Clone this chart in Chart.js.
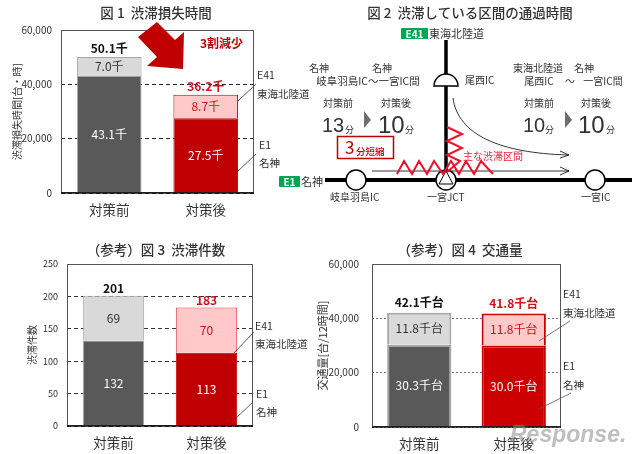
<!DOCTYPE html>
<html lang="ja">
<head>
<meta charset="utf-8">
<title>渋滞対策の効果</title>
<script src="https://cdn.jsdelivr.net/npm/chart.js@4"></script>
<style>
  html, body { margin: 0; padding: 0; background: #fff; }
  #page { position: relative; width: 640px; height: 454px; overflow: hidden; font-family: "Noto Sans CJK JP", sans-serif; }
  canvas { position: absolute; }
  svg { position: absolute; left: 0; top: 0; }
  svg text { font-family: "Noto Sans CJK JP", sans-serif; fill: #333; }
</style>
</head>
<body>
<div id="page">
  <canvas id="fig1"></canvas>
  <canvas id="fig3"></canvas>
  <canvas id="fig4"></canvas>
  <svg width="640" height="454" viewBox="0 0 640 454">
    <!-- titles -->
    <text x="156" y="18" font-size="13.5" text-anchor="middle" font-weight="500">図 1&#160;&#160;渋滞損失時間</text>
    <text x="470" y="18" font-size="13.5" text-anchor="middle" font-weight="500">図 2&#160;&#160;渋滞している区間の通過時間</text>
    <text x="156" y="255" font-size="13.5" text-anchor="middle" font-weight="500">（参考）図 3&#160;&#160;渋滞件数</text>
    <text x="460" y="255" font-size="13.5" text-anchor="middle" font-weight="500">（参考）図 4&#160;&#160;交通量</text>

    <!-- fig 1 arrow and notes -->
    <polygon points="138,37 157,22 175,40 184,32 183,69 147,66 157,57" fill="#c00000"/>
    <text x="200" y="48" font-size="12" font-weight="700" style="fill:#c00000">3割減少</text>
    <g font-size="10.5">
      <text x="257" y="79">E41</text><text x="257" y="98">東海北陸道</text>
      <text x="259" y="149">E1</text><text x="259" y="167">名神</text>
    </g>
    <g stroke="#333" stroke-width="0.8">
      <line x1="238" y1="101" x2="256" y2="84"/><line x1="237" y1="172" x2="256" y2="154"/>
    </g>

    <!-- fig 3 notes -->
    <g font-size="10.5">
      <text x="255" y="330">E41</text><text x="255" y="348">東海北陸道</text>
      <text x="256" y="398">E1</text><text x="256" y="416">名神</text>
    </g>
    <g stroke="#333" stroke-width="0.8">
      <line x1="234" y1="353" x2="254" y2="332"/><line x1="234" y1="420" x2="253" y2="402"/>
    </g>

    <!-- fig 4 notes -->
    <g font-size="10.5">
      <text x="563" y="298">E41</text><text x="563" y="317">東海北陸道</text>
      <text x="563" y="370">E1</text><text x="563" y="389">名神</text>
    </g>
    <g stroke="#555" stroke-width="0.8">
      <line x1="539" y1="341" x2="570" y2="321"/><line x1="539" y1="409" x2="571" y2="393"/>
    </g>

    <!-- fig 2 road diagram -->
    <rect x="401" y="28" width="27" height="11" rx="1" fill="#00a651"/>
    <text x="414.5" y="37.5" font-size="10" font-weight="700" text-anchor="middle" style="fill:#fff">E41</text>
    <text x="429" y="38" font-size="11">東海北陸道</text>
    <rect x="279" y="176" width="21" height="11" rx="1" fill="#00a651"/>
    <text x="289.5" y="185.5" font-size="10" font-weight="700" text-anchor="middle" style="fill:#fff">E1</text>
    <text x="301" y="186" font-size="11">名神</text>

    <line x1="446" y1="40" x2="446" y2="180" stroke="#000" stroke-width="3.5"/>
    <line x1="325" y1="180" x2="632" y2="180" stroke="#000" stroke-width="4"/>
    <circle cx="356" cy="180" r="10" fill="#fff" stroke="#000" stroke-width="1.5"/>
    <circle cx="595" cy="180" r="10" fill="#fff" stroke="#000" stroke-width="1.5"/>
    <circle cx="446" cy="180" r="10" fill="#fff" stroke="#000" stroke-width="1.5"/>
    <polygon points="446,171 453,184 439,184" fill="#fff" stroke="#000" stroke-width="1"/>
    <path d="M434,86 A12,12 0 0 1 458,86 Z" fill="#fff" stroke="#000" stroke-width="1.5"/>

    <path d="M453,98 C458,135 500,153 568,155" fill="none" stroke="#000" stroke-width="0.8"/>
    <path d="M560,151 L569,155 L560,158" fill="none" stroke="#000" stroke-width="0.8"/>
    <line x1="372" y1="171" x2="569" y2="171" stroke="#000" stroke-width="0.8"/>
    <path d="M560,167 L569,171 L560,175" fill="none" stroke="#000" stroke-width="0.8"/>

    <path d="M397,174 L404,161 L412,174 L419,161 L427,174 L434,161 L443,174 L451,161 L459,174 L466,161 L474,174 L481,161 L493,174" fill="none" stroke="#f0102a" stroke-width="2"/>
    <path d="M447,127 L462,134 L447,141 L462,148 L447,155 L460,161 L447,172" fill="none" stroke="#f0102a" stroke-width="2"/>
    <text x="463" y="160" font-size="10" style="fill:#f0203a">主な渋滞区間</text>

    <g font-size="10">
      <text x="319" y="72" text-anchor="middle">名神</text>
      <text x="382" y="72" text-anchor="middle">名神</text>
      <text x="368" y="85" text-anchor="middle" font-size="10.5">岐阜羽島IC～一宮IC間</text>
      <text x="338" y="107" text-anchor="middle">対策前</text>
      <text x="396" y="107" text-anchor="middle">対策後</text>
      <text x="538" y="72" text-anchor="middle">東海北陸道</text>
      <text x="584" y="72" text-anchor="middle">名神</text>
      <text x="539" y="85" text-anchor="middle">尾西IC</text>
      <text x="570" y="85" text-anchor="middle">～</text>
      <text x="603" y="85" text-anchor="middle">一宮IC間</text>
      <text x="539" y="107" text-anchor="middle">対策前</text>
      <text x="596" y="107" text-anchor="middle">対策後</text>
      <text x="465" y="84">尾西IC</text>
      <text x="330" y="201">岐阜羽島IC</text>
      <text x="427" y="201">一宮JCT</text>
      <text x="581" y="201">一宮IC</text>
    </g>
    <g>
      <text x="322" y="132" font-size="20" style="font-family:'Liberation Sans'">13</text>
      <text x="378" y="133" font-size="24" style="font-family:'Liberation Sans'">10</text>
      <text x="523" y="132" font-size="20" style="font-family:'Liberation Sans'">10</text>
      <text x="578" y="133" font-size="24" style="font-family:'Liberation Sans'">10</text>
    </g>
    <g font-size="9">
      <text x="345" y="133">分</text>
      <text x="405" y="133">分</text>
      <text x="545" y="133">分</text>
      <text x="606" y="133">分</text>
    </g>
    <polygon points="364,111 371,120 364,128" fill="#6e6e6e"/>
    <polygon points="565,111 572,120 565,128" fill="#6e6e6e"/>
    <rect x="337.5" y="136.5" width="56" height="22" fill="#fff" stroke="#c00000" stroke-width="1.5"/>
    <text x="345" y="154" font-size="17" style="fill:#c00000">3</text>
    <text x="356" y="155" font-size="9.5" font-weight="500" style="fill:#c00000">分短縮</text>

    <!-- watermark -->
    <text x="510" y="442" font-size="23" font-style="italic" font-weight="700" style="fill:#8a8a8a;font-family:'Liberation Sans'" opacity="0.55">Response.</text>
  </svg>
</div>

<script>
const categories = ['対策前', '対策後'];
const e1Label = 'E1 名神';
const e41Label = 'E41 東海北陸道';

const lossE1 = [43100, 27500];
const lossE41 = [7000, 8700];
const lossTotals = [50100, 36200];
const lossTicks = [0, 20000, 40000, 60000];

const jamE1 = [132, 113];
const jamE41 = [69, 70];
const jamTotals = [201, 183];
const jamTicks = [0, 50, 100, 150, 200, 250];

const trafficE1 = [30300, 30000];
const trafficE41 = [11800, 11800];
const trafficTotals = [42100, 41800];
const trafficTicks = [0, 20000, 40000, 60000];

const JP_FONT = '"Noto Sans CJK JP", sans-serif';

// frame around the plot, then the numbers on the bars
const barText = {
  id: 'barText',
  beforeDatasetsDraw(chart) {
    const a = chart.chartArea, ctx = chart.ctx;
    ctx.save();
    ctx.strokeStyle = '#555';
    ctx.lineWidth = 1;
    ctx.strokeRect(a.left + 0.5, a.top + 0.5, a.width - 1, a.height - 1);
    ctx.restore();
  },
  afterDatasetsDraw(chart, args, opts) {
    const a = chart.chartArea, ctx = chart.ctx;
    ctx.save();
    ctx.strokeStyle = '#111';
    ctx.lineWidth = 1.5;
    ctx.beginPath();
    ctx.moveTo(a.left, a.bottom);
    ctx.lineTo(a.right, a.bottom);
    ctx.stroke();

    ctx.textAlign = 'center';
    ctx.textBaseline = 'middle';
    chart.data.datasets.forEach((ds, d) => {
      chart.getDatasetMeta(d).data.forEach((bar, i) => {
        ctx.font = opts.size + 'px ' + JP_FONT;
        ctx.fillStyle = d === 0 ? '#fff' : (i === 0 ? '#333' : '#d0121b');
        ctx.fillText(opts.format(ds.data[i]), bar.x, (bar.y + bar.base) / 2);
        if (d === chart.data.datasets.length - 1) {
          ctx.font = 'bold ' + opts.size + 'px ' + JP_FONT;
          ctx.fillStyle = i === 0 ? '#111' : '#d0121b';
          ctx.fillText(opts.format(opts.totals[i]), bar.x, bar.y - opts.gap);
        }
      });
    });
    ctx.restore();
  }
};

function makeChart(id, o) {
  const canvas = document.getElementById(id);
  const padTop = 8, padRight = 2, axisHeight = 32;
  const left = o.titleX;
  const width = o.plot.right + padRight - left;
  const height = o.plot.bottom - o.plot.top + padTop + axisHeight;
  canvas.width = width;
  canvas.height = height;
  canvas.style.left = left + 'px';
  canvas.style.top = (o.plot.top - padTop) + 'px';
  canvas.style.width = width + 'px';
  canvas.style.height = height + 'px';

  return new Chart(canvas, {
    type: 'bar',
    data: {
      labels: categories,
      datasets: [
        { label: e1Label, data: o.e1, backgroundColor: o.e1Colors, borderColor: o.e1Borders, borderWidth: o.borderWidth },
        { label: e41Label, data: o.e41, backgroundColor: o.e41Colors, borderColor: o.e41Borders, borderWidth: o.borderWidth }
      ]
    },
    options: {
      responsive: false,
      animation: false,
      devicePixelRatio: 1,
      barPercentage: o.barPercentage,
      categoryPercentage: 1,
      layout: { autoPadding: false, padding: { top: padTop, right: padRight, left: 0, bottom: 0 } },
      plugins: {
        legend: { display: false },
        tooltip: { enabled: false },
        barText: { format: o.format, totals: o.totals, size: o.labelSize, gap: o.gap }
      },
      scales: {
        x: {
          stacked: true,
          grid: { display: false, drawTicks: false },
          border: { display: false },
          ticks: { padding: 9, color: '#333', font: { family: JP_FONT, size: 13.5 } },
          afterFit(s) { s.height = axisHeight; s.paddingLeft = 0; s.paddingRight = 0; }
        },
        y: {
          stacked: true,
          min: 0,
          max: o.ticks[o.ticks.length - 1],
          afterBuildTicks(s) { s.ticks = o.ticks.map(v => ({ value: v })); },
          grid: { color: o.gridColor, drawTicks: false },
          border: { display: false, dash: o.gridDash },
          title: { display: true, text: o.yTitle, color: '#333', padding: 0, font: { family: JP_FONT, size: o.yTitleSize } },
          ticks: {
            padding: o.tickPad,
            color: '#333',
            font: { family: JP_FONT, size: o.tickSize },
            callback: v => v.toLocaleString('en-US')
          },
          afterFit(s) { s.width = o.plot.left - left; s.paddingTop = 0; s.paddingBottom = 0; }
        }
      }
    },
    plugins: [barText]
  });
}

makeChart('fig1', {
  plot: { left: 61, right: 254, top: 30, bottom: 193 },
  titleX: 11,
  yTitle: '渋滞損失時間[台・時]', yTitleSize: 10,
  e1: lossE1, e41: lossE41, totals: lossTotals, ticks: lossTicks,
  e1Colors: ['#595959', '#c00000'], e41Colors: ['#d9d9d9', '#ffc9c9'],
  e1Borders: ['#a6a6a6', '#c00000'], e41Borders: ['#a6a6a6', '#c00000'], borderWidth: 1,
  barPercentage: 0.67, gridColor: '#222', gridDash: [4, 3],
  tickSize: 10, tickPad: 9, labelSize: 12, gap: 8,
  format: v => (v / 1000).toFixed(1) + '千'
});

makeChart('fig3', {
  plot: { left: 67, right: 253, top: 264, bottom: 426 },
  titleX: 26,
  yTitle: '渋滞件数', yTitleSize: 10,
  e1: jamE1, e41: jamE41, totals: jamTotals, ticks: jamTicks,
  e1Colors: ['#595959', '#c00000'], e41Colors: ['#d9d9d9', '#ffc9c9'],
  e1Borders: ['#a6a6a6', '#c00000'], e41Borders: ['#a6a6a6', '#e0404a'], borderWidth: 1,
  barPercentage: 0.66, gridColor: '#333', gridDash: [4, 3],
  tickSize: 9, tickPad: 9, labelSize: 12, gap: 7,
  format: v => String(v)
});

makeChart('fig4', {
  plot: { left: 372, right: 561, top: 264, bottom: 427 },
  titleX: 316,
  yTitle: '交通量[台/12時間]', yTitleSize: 11,
  e1: trafficE1, e41: trafficE41, totals: trafficTotals, ticks: trafficTicks,
  e1Colors: ['#595959', '#cc0000'], e41Colors: ['#d9d9d9', '#ffc9c9'],
  e1Borders: ['#a6a6a6', '#cc0000'], e41Borders: ['#a6a6a6', '#cc0000'], borderWidth: 2,
  barPercentage: 0.68, gridColor: '#777', gridDash: [2, 2],
  tickSize: 10, tickPad: 13, labelSize: 12, gap: 10,
  format: v => (v / 1000).toFixed(1) + '千台'
});
</script>
</body>
</html>
